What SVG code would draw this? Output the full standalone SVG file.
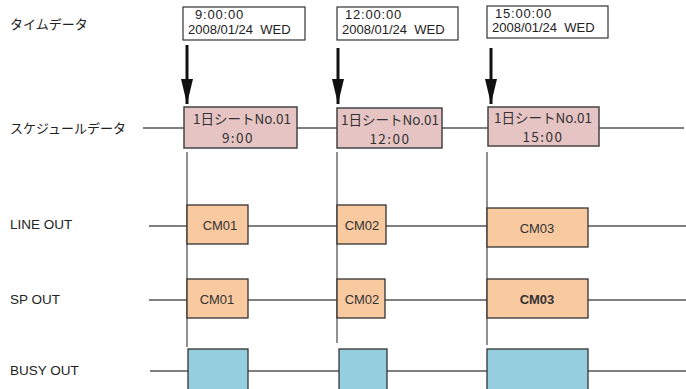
<svg xmlns="http://www.w3.org/2000/svg" width="686" height="389" viewBox="0 0 686 389">
  <style>
    .lbl { font-family: "Noto Sans CJK JP", "Liberation Sans", sans-serif; font-size: 13px; fill: #222; }
    .sig { font-family: "Liberation Sans", Arial, sans-serif; font-size: 13.5px; fill: #222; }
    .tbox { fill: #fff; stroke: #333; stroke-width: 1.2; }
    .ttxt { font-family: "Liberation Sans", Arial, sans-serif; font-size: 13px; fill: #222; white-space: pre; }
    .sched { fill: #e7c4c4; stroke: #444; stroke-width: 1.5; }
    .stxt { font-family: "Noto Sans CJK JP", "Liberation Sans", sans-serif; font-size: 13.5px; fill: #333; text-anchor: middle; }
    .cm { fill: #f9c9a0; stroke: #333; stroke-width: 1.3; }
    .busy { fill: #95cfdf; stroke: #333; stroke-width: 1.3; }
    .cmtxt { font-family: "Liberation Sans", Arial, sans-serif; font-size: 13px; fill: #333; text-anchor: middle; }
    .line { stroke: #555; stroke-width: 1.3; fill: none; }
    .arrow { stroke: #111; stroke-width: 3; fill: none; }
  </style>
  <defs>
    <marker id="head" viewBox="0 0 25 12" refX="25" refY="6" markerWidth="8.3" markerHeight="4" markerUnits="strokeWidth" orient="auto">
      <path d="M0,0 L25,6 L0,12 z" fill="#111"/>
    </marker>
  </defs>

  <!-- row labels -->
  <text class="lbl" x="10" y="29">タイムデータ</text>
  <text class="lbl" x="10" y="133">スケジュールデータ</text>
  <text class="sig" x="10" y="229">LINE OUT</text>
  <text class="sig" x="10" y="304">SP OUT</text>
  <text class="sig" x="10" y="375">BUSY OUT</text>

  <!-- connectors: baselines, verticals and arrows -->
  <g id="connectors">
    <line class="line" x1="143" y1="128" x2="684" y2="128"/>
    <line class="line" x1="149" y1="226" x2="686" y2="226"/>
    <line class="line" x1="149" y1="300" x2="686" y2="300"/>
    <line class="line" x1="150" y1="371" x2="686" y2="371"/>
    <line class="line" x1="187" y1="152" x2="187" y2="347"/>
    <line class="line" x1="337" y1="152" x2="337" y2="343"/>
    <line class="line" x1="487" y1="152" x2="487" y2="345"/>
    <line class="arrow" x1="187" y1="45" x2="187" y2="104" marker-end="url(#head)"/>
    <line class="arrow" x1="338" y1="48" x2="338" y2="104" marker-end="url(#head)"/>
    <line class="arrow" x1="491" y1="48" x2="491" y2="104" marker-end="url(#head)"/>
  </g>

  <!-- time data boxes -->
  <g id="time1">
    <rect class="tbox" x="183" y="7" width="122" height="33"/>
    <text class="ttxt" x="195" y="19" letter-spacing="0.8">9:00:00</text>
    <text class="ttxt" x="188" y="34" xml:space="preserve">2008/01/24  WED</text>
  </g>
  <g id="time2">
    <rect class="tbox" x="337" y="7" width="121" height="33"/>
    <text class="ttxt" x="345" y="19" letter-spacing="0.8">12:00:00</text>
    <text class="ttxt" x="342" y="34" xml:space="preserve">2008/01/24  WED</text>
  </g>
  <g id="time3">
    <rect class="tbox" x="487" y="6" width="121" height="32"/>
    <text class="ttxt" x="495" y="18" letter-spacing="0.8">15:00:00</text>
    <text class="ttxt" x="492" y="32" xml:space="preserve">2008/01/24  WED</text>
  </g>

  <!-- schedule data boxes -->
  <g id="sched1">
    <rect class="sched" x="184" y="107" width="113" height="41"/>
    <text class="stxt" x="242" y="124">1日シートNo.01</text>
    <text class="stxt" x="238" y="143" letter-spacing="1.5">9:00</text>
  </g>
  <g id="sched2">
    <rect class="sched" x="337" y="108" width="105" height="40"/>
    <text class="stxt" x="390" y="125">1日シートNo.01</text>
    <text class="stxt" x="390" y="144" letter-spacing="1.5">12:00</text>
  </g>
  <g id="sched3">
    <rect class="sched" x="488" y="107" width="111" height="39"/>
    <text class="stxt" x="543" y="123">1日シートNo.01</text>
    <text class="stxt" x="543" y="142" letter-spacing="1.5">15:00</text>
  </g>

  <!-- LINE OUT -->
  <g id="line1">
    <rect class="cm" x="187" y="205" width="61" height="39"/>
    <text class="cmtxt" x="220" y="230">CM01</text>
  </g>
  <g id="line2">
    <rect class="cm" x="337" y="205" width="49" height="39"/>
    <text class="cmtxt" x="362" y="230">CM02</text>
  </g>
  <g id="line3">
    <rect class="cm" x="487" y="208" width="101" height="39"/>
    <text class="cmtxt" x="537" y="233">CM03</text>
  </g>

  <!-- SP OUT -->
  <g id="sp1">
    <rect class="cm" x="187" y="279" width="61" height="39"/>
    <text class="cmtxt" x="217" y="304">CM01</text>
  </g>
  <g id="sp2">
    <rect class="cm" x="337" y="279" width="48" height="39"/>
    <text class="cmtxt" x="362" y="304">CM02</text>
  </g>
  <g id="sp3">
    <rect class="cm" x="487" y="279" width="101" height="39"/>
    <text class="cmtxt" x="537" y="304" font-weight="bold">CM03</text>
  </g>

  <!-- BUSY OUT -->
  <g id="busy1"><rect class="busy" x="188" y="349" width="60" height="42"/></g>
  <g id="busy2"><rect class="busy" x="339" y="349" width="48" height="42"/></g>
  <g id="busy3"><rect class="busy" x="487" y="349" width="101" height="42"/></g>
</svg>
